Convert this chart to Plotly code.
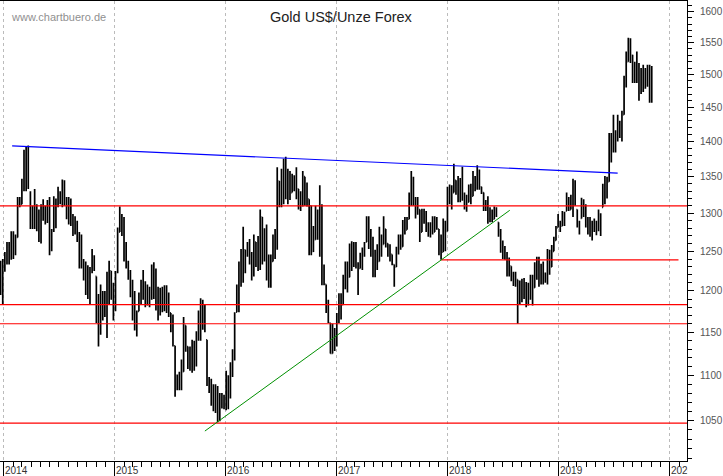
import pandas as pd
import plotly.graph_objects as go

# === Wochenbalken ===
highs = [
    1238, 1240, 1249, 1262, 1262, 1276, 1276, 1272, 1322, 1322,
    1347, 1388, 1393, 1394, 1330, 1310, 1333, 1312, 1305, 1312,
    1319, 1310, 1318, 1322, 1279, 1323, 1320, 1336, 1330, 1346,
    1345, 1322, 1322, 1320, 1299, 1296, 1290, 1275, 1272, 1240,
    1237, 1232, 1230, 1253, 1245, 1218, 1196, 1208, 1200, 1200,
    1224, 1238, 1225, 1210, 1225, 1281, 1309, 1299, 1295, 1262,
    1238, 1226, 1214, 1200, 1176, 1198, 1214, 1226, 1212, 1208,
    1205, 1233, 1236, 1228, 1205, 1204, 1205, 1207, 1207, 1198,
    1173, 1171, 1134, 1101, 1104, 1118, 1168, 1158, 1133, 1133,
    1141, 1140, 1151, 1176, 1191, 1189, 1183, 1141, 1098, 1096,
    1090, 1090, 1088, 1080, 1080, 1078, 1105, 1100, 1115, 1130,
    1174, 1208, 1237, 1253, 1282, 1252, 1262, 1266, 1249, 1272,
    1262, 1270, 1305, 1295, 1280, 1285, 1246, 1246, 1272, 1279,
    1363, 1344, 1361, 1375, 1378, 1361, 1358, 1354, 1352, 1363,
    1333, 1330, 1358, 1350, 1342, 1319, 1310, 1283, 1310, 1305,
    1338, 1312, 1233, 1208, 1189, 1161, 1160, 1155, 1173, 1197,
    1197, 1220, 1237, 1237, 1260, 1263, 1262, 1262, 1236, 1248,
    1255, 1262, 1296, 1296, 1279, 1269, 1252, 1259, 1282, 1272,
    1296, 1279, 1260, 1259, 1246, 1233, 1256, 1272, 1272, 1291,
    1295, 1295, 1328, 1358, 1350, 1322, 1322, 1305, 1306, 1306,
    1303, 1288, 1288, 1296, 1296, 1295, 1279, 1272, 1293, 1290,
    1336, 1339, 1338, 1368, 1345, 1351, 1348, 1364, 1328, 1325,
    1339, 1340, 1358, 1351, 1366, 1360, 1336, 1328, 1318, 1323,
    1308, 1305, 1309, 1308, 1288, 1279, 1264, 1257, 1249, 1242,
    1231, 1224, 1224, 1214, 1213, 1215, 1216, 1211, 1210, 1220,
    1220, 1236, 1243, 1243, 1234, 1237, 1223, 1253, 1252, 1258,
    1269, 1283, 1299, 1290, 1303, 1302, 1328, 1322, 1325, 1347,
    1345, 1305, 1290, 1321, 1319, 1312, 1295, 1295, 1290, 1293,
    1290, 1305, 1300, 1340, 1351, 1350, 1412, 1412, 1439, 1416,
    1439, 1430, 1445, 1498, 1536, 1558, 1557, 1531, 1520, 1536,
    1518, 1510, 1515, 1510, 1515, 1515, 1513,
]
lows = [
    1195, 1183, 1224, 1233, 1233, 1239, 1240, 1245, 1268, 1308,
    1312, 1330, 1330, 1333, 1279, 1279, 1279, 1276, 1262, 1260,
    1290, 1285, 1287, 1245, 1250, 1275, 1280, 1308, 1312, 1308,
    1310, 1292, 1285, 1283, 1270, 1272, 1262, 1228, 1228, 1213,
    1195, 1190, 1183, 1222, 1225, 1161, 1133, 1147, 1164, 1168,
    1143, 1183, 1189, 1164, 1175, 1222, 1275, 1270, 1237, 1228,
    1214, 1192, 1164, 1152, 1145, 1175, 1183, 1189, 1180, 1182,
    1180, 1189, 1190, 1176, 1164, 1170, 1174, 1175, 1173, 1168,
    1150, 1133, 1076, 1083, 1083, 1083, 1104, 1127, 1107, 1105,
    1103, 1105, 1110, 1140, 1140, 1153, 1150, 1088, 1080, 1066,
    1060, 1058, 1048, 1049, 1063, 1062, 1061, 1062, 1074, 1098,
    1117, 1174, 1174, 1205, 1210, 1222, 1243, 1233, 1213, 1218,
    1230, 1225, 1226, 1233, 1237, 1213, 1204, 1204, 1237, 1240,
    1252, 1308, 1308, 1312, 1319, 1312, 1318, 1328, 1330, 1319,
    1305, 1303, 1309, 1310, 1309, 1245, 1245, 1249, 1265, 1265,
    1243, 1207, 1207, 1173, 1161, 1125, 1125, 1128, 1133, 1161,
    1165, 1183, 1202, 1198, 1217, 1225, 1230, 1228, 1195, 1228,
    1226, 1243, 1262, 1253, 1243, 1217, 1217, 1226, 1237, 1243,
    1259, 1255, 1243, 1237, 1232, 1205, 1230, 1246, 1252, 1256,
    1272, 1278, 1292, 1310, 1310, 1293, 1298, 1262, 1275, 1286,
    1275, 1269, 1268, 1272, 1275, 1278, 1245, 1239, 1249, 1250,
    1276, 1312, 1305, 1328, 1325, 1315, 1315, 1317, 1305, 1302,
    1315, 1312, 1323, 1330, 1332, 1332, 1326, 1303, 1303, 1286,
    1288, 1288, 1292, 1295, 1269, 1248, 1240, 1239, 1218, 1218,
    1212, 1206, 1205, 1160, 1183, 1186, 1190, 1180, 1182, 1189,
    1182, 1204, 1214, 1205, 1208, 1208, 1210, 1208, 1220, 1230,
    1250, 1264, 1281, 1275, 1283, 1283, 1303, 1303, 1305, 1295,
    1310, 1281, 1272, 1293, 1295, 1281, 1272, 1269, 1264, 1275,
    1271, 1276, 1270, 1308, 1312, 1320, 1343, 1370, 1384, 1384,
    1400, 1405, 1400, 1439, 1480, 1520, 1518, 1487, 1487, 1487,
    1460, 1470, 1473, 1478, 1481, 1457, 1457,
]
opens = [
    1205, 1225, 1238, 1245, 1255, 1250, 1265, 1258, 1268, 1318,
    1312, 1340, 1380, 1345, 1325, 1290, 1285, 1310, 1285, 1290,
    1295, 1300, 1292, 1305, 1255, 1278, 1315, 1310, 1325, 1320,
    1335, 1318, 1300, 1305, 1295, 1275, 1285, 1268, 1235, 1232,
    1218, 1205, 1215, 1226, 1240, 1218, 1165, 1175, 1195, 1180,
    1195, 1210, 1225, 1195, 1200, 1225, 1275, 1290, 1285, 1240,
    1235, 1220, 1200, 1170, 1160, 1175, 1190, 1205, 1195, 1205,
    1190, 1200, 1225, 1210, 1185, 1172, 1195, 1178, 1200, 1180,
    1173, 1155, 1134, 1085, 1095, 1086, 1104, 1158, 1133, 1115,
    1125, 1110, 1130, 1145, 1165, 1175, 1180, 1141, 1095, 1085,
    1070, 1080, 1085, 1052, 1065, 1070, 1065, 1095, 1075, 1105,
    1125, 1174, 1200, 1230, 1240, 1252, 1245, 1255, 1240, 1225,
    1262, 1240, 1250, 1295, 1245, 1265, 1225, 1235, 1237, 1265,
    1272, 1344, 1315, 1350, 1365, 1330, 1345, 1328, 1345, 1335,
    1333, 1315, 1320, 1350, 1320, 1319, 1310, 1250, 1265, 1275,
    1285, 1300, 1215, 1208, 1180, 1161, 1125, 1150, 1135, 1165,
    1190, 1183, 1212, 1225, 1217, 1250, 1235, 1258, 1235, 1228,
    1235, 1250, 1262, 1285, 1265, 1250, 1225, 1240, 1237, 1270,
    1259, 1279, 1260, 1250, 1246, 1233, 1230, 1250, 1265, 1256,
    1285, 1278, 1292, 1322, 1340, 1320, 1300, 1305, 1275, 1302,
    1290, 1280, 1272, 1284, 1275, 1292, 1279, 1250, 1249, 1285,
    1276, 1325, 1330, 1328, 1345, 1335, 1325, 1340, 1325, 1315,
    1315, 1330, 1323, 1345, 1335, 1355, 1336, 1328, 1310, 1312,
    1295, 1300, 1292, 1305, 1288, 1272, 1255, 1248, 1245, 1225,
    1231, 1218, 1210, 1214, 1185, 1205, 1195, 1205, 1195, 1198,
    1215, 1204, 1225, 1235, 1215, 1225, 1220, 1215, 1245, 1230,
    1250, 1264, 1281, 1284, 1283, 1288, 1303, 1320, 1305, 1312,
    1330, 1305, 1285, 1293, 1315, 1300, 1285, 1278, 1272, 1280,
    1278, 1284, 1280, 1308, 1330, 1345, 1343, 1405, 1390, 1395,
    1410, 1420, 1425, 1439, 1490, 1520, 1535, 1530, 1500, 1510,
    1495, 1505, 1480, 1505, 1490, 1510, 1510,
]
closes = [
    1225, 1238, 1245, 1255, 1250, 1265, 1258, 1268, 1318, 1312,
    1340, 1380, 1345, 1385, 1290, 1285, 1320, 1285, 1290, 1295,
    1300, 1292, 1305, 1255, 1258, 1315, 1308, 1325, 1320, 1335,
    1318, 1300, 1305, 1295, 1275, 1285, 1268, 1235, 1232, 1218,
    1205, 1215, 1195, 1240, 1228, 1165, 1175, 1195, 1180, 1195,
    1210, 1225, 1195, 1200, 1218, 1275, 1290, 1285, 1240, 1235,
    1220, 1200, 1170, 1160, 1155, 1190, 1205, 1195, 1205, 1190,
    1200, 1225, 1210, 1185, 1172, 1195, 1178, 1200, 1180, 1175,
    1155, 1135, 1085, 1095, 1086, 1100, 1160, 1135, 1115, 1125,
    1110, 1130, 1145, 1165, 1175, 1180, 1160, 1095, 1085, 1070,
    1080, 1085, 1052, 1065, 1070, 1065, 1095, 1075, 1105, 1125,
    1170, 1200, 1230, 1240, 1255, 1228, 1255, 1240, 1225, 1265,
    1240, 1250, 1295, 1245, 1265, 1225, 1235, 1210, 1265, 1272,
    1355, 1315, 1350, 1365, 1330, 1345, 1325, 1345, 1335, 1340,
    1315, 1320, 1350, 1320, 1330, 1310, 1250, 1260, 1275, 1285,
    1300, 1215, 1220, 1180, 1165, 1125, 1150, 1135, 1165, 1190,
    1175, 1212, 1225, 1205, 1250, 1235, 1258, 1235, 1205, 1235,
    1250, 1255, 1285, 1265, 1250, 1225, 1240, 1232, 1270, 1250,
    1280, 1262, 1250, 1255, 1235, 1212, 1250, 1265, 1255, 1285,
    1275, 1290, 1322, 1340, 1320, 1300, 1312, 1270, 1302, 1290,
    1280, 1272, 1284, 1275, 1292, 1285, 1250, 1245, 1285, 1262,
    1325, 1330, 1315, 1345, 1335, 1325, 1340, 1325, 1315, 1310,
    1330, 1318, 1345, 1335, 1355, 1338, 1330, 1310, 1312, 1295,
    1300, 1292, 1305, 1298, 1272, 1255, 1248, 1245, 1225, 1235,
    1218, 1210, 1215, 1185, 1205, 1195, 1205, 1195, 1198, 1215,
    1190, 1225, 1235, 1215, 1225, 1220, 1215, 1245, 1230, 1250,
    1262, 1275, 1284, 1282, 1288, 1298, 1320, 1305, 1312, 1330,
    1320, 1285, 1280, 1315, 1300, 1285, 1278, 1272, 1280, 1278,
    1284, 1280, 1290, 1330, 1345, 1335, 1405, 1390, 1395, 1410,
    1420, 1425, 1435, 1490, 1510, 1535, 1530, 1500, 1510, 1495,
    1505, 1480, 1505, 1490, 1510, 1510, 1462,
]
dates = pd.date_range("2013-12-22", periods=len(highs), freq="7D")

# === Linien ===
red_levels = [1310, 1183, 1160, 1047]
red_short_x = ["2017-12-10", "2020-01-30"]
red_short_y = [1239, 1239]
blue_x = ["2014-01-29", "2019-07-14"]
blue_y = [1393.5, 1355]
green_x = ["2015-10-25", "2018-07-24"]
green_y = [1038.5, 1304]

years = [2014, 2015, 2016, 2017, 2018, 2019, 2020]
price_ticks = list(range(1050, 1601, 50))
minor_ticks = list(range(1010, 1621, 10))
x_range = ["2013-12-20", "2020-02-27"]
y_range = [3.0030, 3.2090]

fig = go.Figure()
fig.add_trace(go.Ohlc(
    x=dates, open=opens, high=highs, low=lows, close=closes,
    increasing_line_color="black", decreasing_line_color="black",
    line_width=1.7, tickwidth=0.4,
))

for level in red_levels:
    fig.add_trace(go.Scatter(x=x_range, y=[level, level], mode="lines",
                             line=dict(color="#ff0000", width=1.2)))
fig.add_trace(go.Scatter(x=red_short_x, y=red_short_y, mode="lines",
                         line=dict(color="#ff0000", width=1.2)))
fig.add_trace(go.Scatter(x=blue_x, y=blue_y, mode="lines",
                         line=dict(color="#0000ff", width=1.2)))
fig.add_trace(go.Scatter(x=green_x, y=green_y, mode="lines",
                         line=dict(color="#009000", width=1)))

fig.update_layout(
    width=723, height=476,
    margin=dict(l=0, r=36, t=1, b=15),
    paper_bgcolor="white", plot_bgcolor="white",
    showlegend=False,
    font=dict(family="Liberation Sans"),
)
fig.update_xaxes(
    type="date", range=x_range, rangeslider_visible=False,
    tick0="2014-01-01", dtick="M12",
    showgrid=True, gridcolor="#bbbbbb", griddash="3px,3px", gridwidth=1,
    showticklabels=False, ticks="outside", ticklen=15, tickcolor="black",
    showline=True, linecolor="black", linewidth=1, mirror=True,
    minor=dict(dtick="M1", tick0="2014-01-01", ticks="outside", ticklen=5,
               tickcolor="black", showgrid=False),
)
fig.update_yaxes(
    type="log", range=y_range, side="right",
    tickmode="array", tickvals=price_ticks, ticktext=[str(v) for v in price_ticks],
    tickfont=dict(size=10, color="#555555"), ticklabelstandoff=4,
    ticks="outside", ticklen=6, tickcolor="black",
    showgrid=False, zeroline=False,
    showline=True, linecolor="black", linewidth=1,
    minor=dict(tickmode="array", tickvals=minor_ticks, ticks="outside", ticklen=4,
               tickcolor="black", showgrid=False),
)

# Titel und Wasserzeichen
fig.add_annotation(text="Gold US$/Unze Forex", xref="paper", yref="paper",
                   x=341 / 687, y=1 - 16 / 460, xanchor="center", yanchor="middle",
                   showarrow=False, font=dict(size=14.5, color="#222222"))
fig.add_annotation(text="www.chartbuero.de", xref="paper", yref="paper",
                   x=9 / 687, y=1 - 16 / 460, xanchor="left", yanchor="middle",
                   showarrow=False, font=dict(size=11, color="#909090"))

# Jahreszahlen rechts neben dem Strich
for year in years:
    fig.add_annotation(text=str(year), x=f"{year}-01-01", xref="x", yref="paper", y=0,
                       xanchor="left", yanchor="top", xshift=-1, yshift=-2,
                       showarrow=False, font=dict(size=10, color="#333333"))
# 2020 wird im Original an der Achse abgeschnitten
fig.add_annotation(text=" ", xref="paper", yref="paper", x=1, y=0, xanchor="left",
                   yanchor="top", yshift=-1, width=34, height=13, bgcolor="white",
                   showarrow=False, borderpad=0)

# Browser-Rand entfernen, sonst sitzt das Bild um 8px versetzt
fig.write_html("out.html", config=dict(displayModeBar=False),
               post_script="document.body.style.margin='0';")
